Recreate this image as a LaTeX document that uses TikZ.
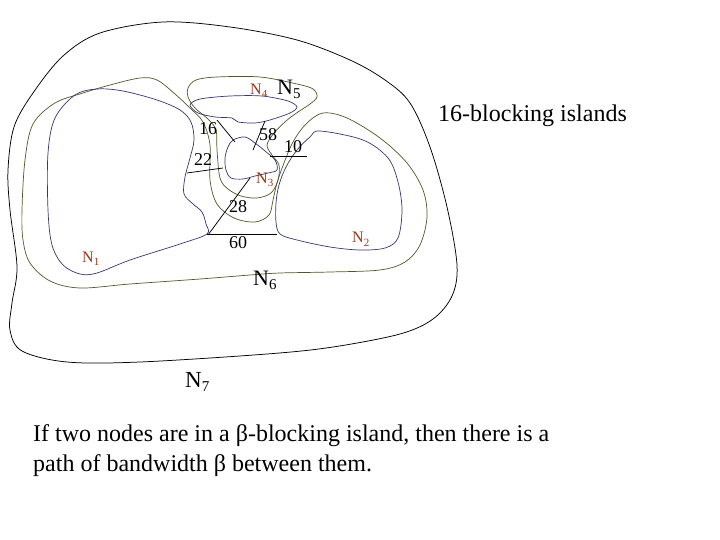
\documentclass[tikz,border=0pt]{standalone}
\usepackage{fontspec}
\setmainfont{Liberation Serif}
\definecolor{isblue}{RGB}{55,55,115}
\definecolor{isgreen}{RGB}{80,88,40}
\definecolor{isbrown}{RGB}{155,55,20}
\newcommand{\bsub}[1]{\raisebox{-4pt}{\fontsize{15}{15}\selectfont #1}}
\newcommand{\rsub}[1]{\raisebox{-3pt}{\fontsize{11}{11}\selectfont #1}}
\begin{document}
\begin{tikzpicture}[x=1pt,y=-1pt,
  outerisle/.style={draw=black,line width=0.75pt},
  greenisle/.style={draw=isgreen,line width=0.7pt},
  blueisle/.style={draw=isblue,line width=0.7pt},
  linkline/.style={draw=black,line width=0.75pt},
  numlbl/.style={inner sep=0pt,anchor=center,font=\fontsize{18}{18}\selectfont},
  brownlbl/.style={inner sep=0pt,anchor=base west,text=isbrown,font=\fontsize{16}{16}\selectfont},
  blacklbl/.style={inner sep=0pt,anchor=base west,font=\fontsize{22}{22}\selectfont},
  bigtext/.style={inner sep=0pt,anchor=base west,font=\fontsize{24}{24}\selectfont}]
\fill[white] (0,0) rectangle (720,540);
\useasboundingbox (0,0) rectangle (720,540);

% outer 16-blocking island (N7)
\draw[outerisle] plot[smooth cycle,tension=0.55] coordinates {
 (163,22) (230,27) (297,40) (350,60) (385,80) (410,103) (430,147) (447,207)
 (457,265) (452,296) (433,319) (400,334) (333,347) (267,354) (140,362)
 (67,362) (22,351) (10,330) (12,303) (17,267) (10,210) (8,170) (14,127)
 (33,93) (63,56) (100,33)};

% big green island around N1 and N2
\draw[greenisle] plot[smooth cycle,tension=0.55] coordinates {
 (323,113) (347,118) (380,138) (407,163) (423,190) (427,217) (420,245)
 (405,262) (380,270) (330,272) (280,273) (250,275) (200,279) (130,284)
 (80,288) (50,281) (30,263) (23,240) (22,210) (25,160) (33,124) (55,103)
 (83,93) (110,85) (140,78) (157,80) (175,94) (190,108) (203,122) (210,145)
 (210,180) (217,204) (234,218) (255,222) (269,215) (273,200) (277,183)
 (284,163) (293,142) (306,124)};

% green island around N4 and N3
\draw[greenisle] plot[smooth cycle,tension=0.55] coordinates {
 (188,88) (196,80) (217,77) (260,77) (297,84) (313,89) (317,97) (310,104)
 (298,112) (286,121) (274,133) (267,145) (272,155) (279,165) (278,180)
 (271,193) (257,198) (241,196) (228,189) (220,178) (217,150) (216,130)
 (208,119) (195,108) (188,97)};

% blue islands
\draw[blueisle] plot[smooth cycle,tension=0.55] coordinates {
 (75,95) (97,89) (123,91) (157,100) (180,110) (191,122) (194,140) (190,158)
 (185,177) (184,194) (193,204) (202,212) (206,224) (207,234) (180,244)
 (130,260) (97,273) (80,274) (63,265) (52,245) (48,210) (48,153) (55,118)};
\draw[blueisle] plot[smooth cycle,tension=0.5] coordinates {
 (190,105) (200,99) (230,96) (262,96) (288,101) (297,107) (290,113)
 (270,120) (255,123) (238,122) (232,118) (215,117) (198,113)};
\draw[blueisle] plot[smooth cycle,tension=0.55] coordinates {
 (233,140) (245,137) (255,143) (265,151) (275,160) (277,170) (268,173)
 (255,176) (243,179) (231,178) (226,170) (225,158) (228,147)};
\draw[blueisle] plot[smooth cycle,tension=0.55] coordinates {
 (320,131) (363,140) (388,158) (398,182) (402,210) (398,238) (385,248)
 (360,250) (330,247) (297,240) (280,234) (276,222) (276,203) (279,185)
 (286,167) (297,150) (310,137)};

% link end points
\coordinate (a16) at (217,120); \coordinate (b16) at (235,142);
\coordinate (a58) at (265,121); \coordinate (b58) at (253,150);
\coordinate (a10) at (270,156); \coordinate (b10) at (307,156);
\coordinate (a22) at (187,173); \coordinate (b22) at (223,168);
\coordinate (a28) at (250,178); \coordinate (b28) at (208,235);
\coordinate (a60) at (207,234); \coordinate (b60) at (277,234);
\draw[linkline] (a16) -- (b16);
\draw[linkline] (a58) -- (b58);
\draw[linkline] (a10) -- (b10);
\draw[linkline] (a22) -- (b22);
\draw[linkline] (a28) -- (b28);
\draw[linkline] (a60) -- (b60);

% link labels
\node[numlbl] (t16) at (208,129) {16};
\node[numlbl] (t58) at (268,135) {58};
\node[numlbl] (t10) at (293,147) {10};
\node[numlbl] (t22) at (203,160) {22};
\node[numlbl] (t28) at (238,207) {28};
\node[numlbl] (t60) at (238,243) {60};

% node labels
\node[brownlbl] (n4) at (250,95) {N\rsub{4}};
\node[brownlbl] (n3) at (256,184) {N\rsub{3}};
\node[brownlbl] (n1) at (82,262) {N\rsub{1}};
\node[brownlbl] (n2) at (352,243) {N\rsub{2}};
\node[blacklbl] (n5) at (277,95) {N\bsub{5}};
\node[blacklbl] (n6) at (253,285) {N\bsub{6}};
\node[blacklbl,font=\fontsize{23}{23}\selectfont] (n7) at (185,387) {N\bsub{7}};

\node[bigtext] (title) at (438,122) {16-blocking islands};
\node[bigtext] (line1) at (33,441) {If two nodes are in a β-blocking island, then there is a};
\node[bigtext] (line2) at (33,471) {path of bandwidth β between them.};
\end{tikzpicture}
\end{document}
